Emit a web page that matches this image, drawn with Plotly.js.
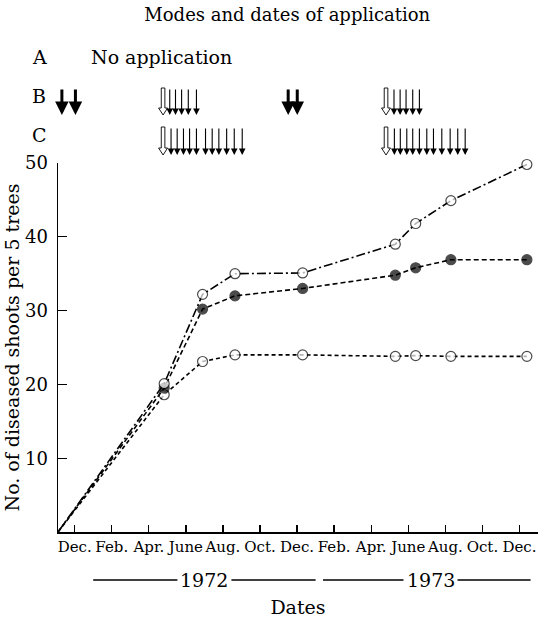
<!DOCTYPE html>
<html><head><meta charset="utf-8">
<script src="https://cdn.plot.ly/plotly-3.0.1.min.js"></script>
<style>html,body{margin:0;padding:0;background:#fff;}#chart{width:542px;height:618px;}</style>
</head><body><div id="chart"></div>
<script>
// x values: months after 1 Dec 1971
const sampleMonths = [-0.9, 4.83, 6.9, 8.65, 12.3, 17.3, 18.4, 20.3, 24.4];
const seriesA = [0, 18.6, 23.1, 24.0, 24.0, 23.8, 23.9, 23.8, 23.8];
const seriesB = [0, 19.5, 30.2, 32.0, 33.0, 34.8, 35.8, 36.9, 36.9];
const seriesC = [0, 20.1, 32.2, 35.0, 35.1, 39.0, 41.8, 44.9, 49.8];
const tickMonths = [0, 2, 4, 6, 8, 10, 12, 14, 16, 18, 20, 22, 24];
const tickLabels = ['Dec.', 'Feb.', 'Apr.', 'June', 'Aug.', 'Oct.', 'Dec.', 'Feb.', 'Apr.', 'June', 'Aug.', 'Oct.', 'Dec.'];
const yTicks = [10, 20, 30, 40, 50];
// application dates (months after 1 Dec 1971)
const appBBold = [-0.69, 0.04, 11.52, 12.01];
const appBOpen = [4.77, 16.8];
const appBThin = [5.13, 5.44, 5.77, 6.13, 6.57, 17.23, 17.56, 17.88, 18.24, 18.6];
const appCOpen = [4.77, 16.8];
const appCThin = [5.2, 5.53, 5.87, 6.2, 6.57, 7.06, 7.42, 7.78, 8.2, 8.61, 9.04,
                  17.25, 17.57, 17.92, 18.24, 18.6, 19.0, 19.36, 19.81, 20.26, 20.67, 21.07];
const rowLabels = ['A', 'B', 'C'];
const noAppText = 'No application';
const years = ['1972', '1973'];
const yearCentres = [7, 19.2];
const yearSpans = [[1.0, 13.0], [13.4, 24.6]];

// geometry
const W = 542, H = 618;
const M = {l: 58, r: 4, t: 163, b: 86};
const xRange = [-0.9, 25.0];
const plotW = W - M.l - M.r, plotH = H - M.t - M.b;
const pxPerMonth = plotW / (xRange[1] - xRange[0]);
const paperY = py => (H - M.b - py) / plotH;
const paperX = px => (px - M.l) / plotW;
const FONT = 'DejaVu Serif, Liberation Serif, serif';

const markerSizes = sampleMonths.map((_, i) => i === 0 ? 0 : 10);
function series(y, filled, dash) {
  return {
    x: sampleMonths, y: y, type: 'scatter', mode: 'lines+markers', cliponaxis: false,
    line: {color: '#000', width: 1.6, dash: dash},
    marker: {size: markerSizes, color: filled ? '#000' : '#fff', line: {color: '#000', width: 1.2}},
    showlegend: false, hoverinfo: 'skip'
  };
}
const traces = [
  series(seriesA, false, '4px,3px'),
  series(seriesB, true, '5px,3px'),
  series(seriesC, false, '9px,3px,2px,3px')
];

const annotations = [];
const shapes = [];
function arrow(d, headPy, len, width, size) {
  annotations.push({xref: 'x', yref: 'paper', x: d, y: paperY(headPy), ax: 0, ay: -len,
    showarrow: true, arrowhead: 2, arrowsize: size, arrowwidth: width, arrowcolor: '#000',
    text: '', standoff: 0, startstandoff: 0});
}
function openArrow(d, topPy, botPy) {
  const sw = 1.8 / pxPerMonth, hw = 4.5 / pxPerMonth;
  const neck = botPy - 7;
  const p = [[d - sw, topPy], [d + sw, topPy], [d + sw, neck], [d + hw, neck], [d, botPy], [d - hw, neck], [d - sw, neck]];
  const path = p.map((q, i) => (i ? 'L' : 'M') + q[0] + ',' + paperY(q[1])).join(' ') + ' Z';
  shapes.push({type: 'path', xref: 'x', yref: 'paper', path: path, fillcolor: '#fff',
    line: {color: '#000', width: 0.9}, layer: 'above'});
}
const rowB = {top: 88, head: 115}, rowC = {top: 127, head: 155};
appBBold.forEach(d => arrow(d, rowB.head, rowB.head - rowB.top, 3, 0.9));
appBThin.forEach(d => arrow(d, rowB.head, rowB.head - rowB.top, 1.1, 1.2));
appBOpen.forEach(d => openArrow(d, rowB.top, rowB.head));
appCThin.forEach(d => arrow(d, rowC.head, rowC.head - rowC.top, 1.1, 1.2));
appCOpen.forEach(d => openArrow(d, rowC.top, rowC.head));

// row letters
const rowYs = [57, 96, 135];
rowLabels.forEach((t, i) => annotations.push({xref: 'paper', yref: 'paper', x: paperX(39), y: paperY(rowYs[i]),
  text: t, showarrow: false, xanchor: 'center', yanchor: 'middle', font: {family: FONT, size: 19, color: '#000'}}));
annotations.push({xref: 'paper', yref: 'paper', x: paperX(89), y: paperY(57), text: noAppText, showarrow: false,
  xanchor: 'left', yanchor: 'middle', font: {family: FONT, size: 19, color: '#000'}});

// year bars
const yearPy = 580;
const halfTxt = 27 / pxPerMonth;
years.forEach((t, i) => {
  const c = yearCentres[i];
  annotations.push({xref: 'x', yref: 'paper', x: c, y: paperY(yearPy), text: t, showarrow: false,
    xanchor: 'center', yanchor: 'middle', font: {family: FONT, size: 19, color: '#000'}});
  [[yearSpans[i][0], c - halfTxt], [c + halfTxt, yearSpans[i][1]]].forEach(s => shapes.push({
    type: 'line', xref: 'x', yref: 'paper', x0: s[0], x1: s[1], y0: paperY(yearPy), y1: paperY(yearPy),
    line: {color: '#000', width: 1.3}}));
});

const layout = {
  width: W, height: H, margin: M, paper_bgcolor: '#fff', plot_bgcolor: '#fff',
  font: {family: FONT, color: '#000'},
  title: {text: 'Modes and dates of application', font: {family: FONT, size: 18, color: '#000'},
    x: 0.53, xanchor: 'center', y: 1 - 15 / H, yanchor: 'middle'},
  xaxis: {range: xRange, tickvals: tickMonths, ticktext: tickLabels, ticks: 'inside', ticklen: 7, tickwidth: 1.3,
    tickcolor: '#000', showline: true, linecolor: '#000', linewidth: 1.5, showgrid: false, zeroline: false,
    tickangle: 0, tickfont: {family: FONT, size: 15, color: '#000'}, fixedrange: true,
    title: {text: 'Dates', font: {family: FONT, size: 19, color: '#000'}, standoff: 46}},
  yaxis: {range: [0, 50], tickvals: yTicks, ticks: 'inside', ticklen: 9, tickwidth: 1.3, tickcolor: '#000',
    showline: true, linecolor: '#000', linewidth: 1.5, showgrid: false, zeroline: false,
    tickfont: {family: FONT, size: 18, color: '#000'}, ticklabelstandoff: 5, fixedrange: true,
    title: {text: 'No. of diseased shoots per 5 trees', font: {family: FONT, size: 19, color: '#000'}, standoff: 0}},
  annotations: annotations, shapes: shapes
};
Plotly.newPlot('chart', traces, layout, {staticPlot: true, displayModeBar: false});
</script></body></html>
